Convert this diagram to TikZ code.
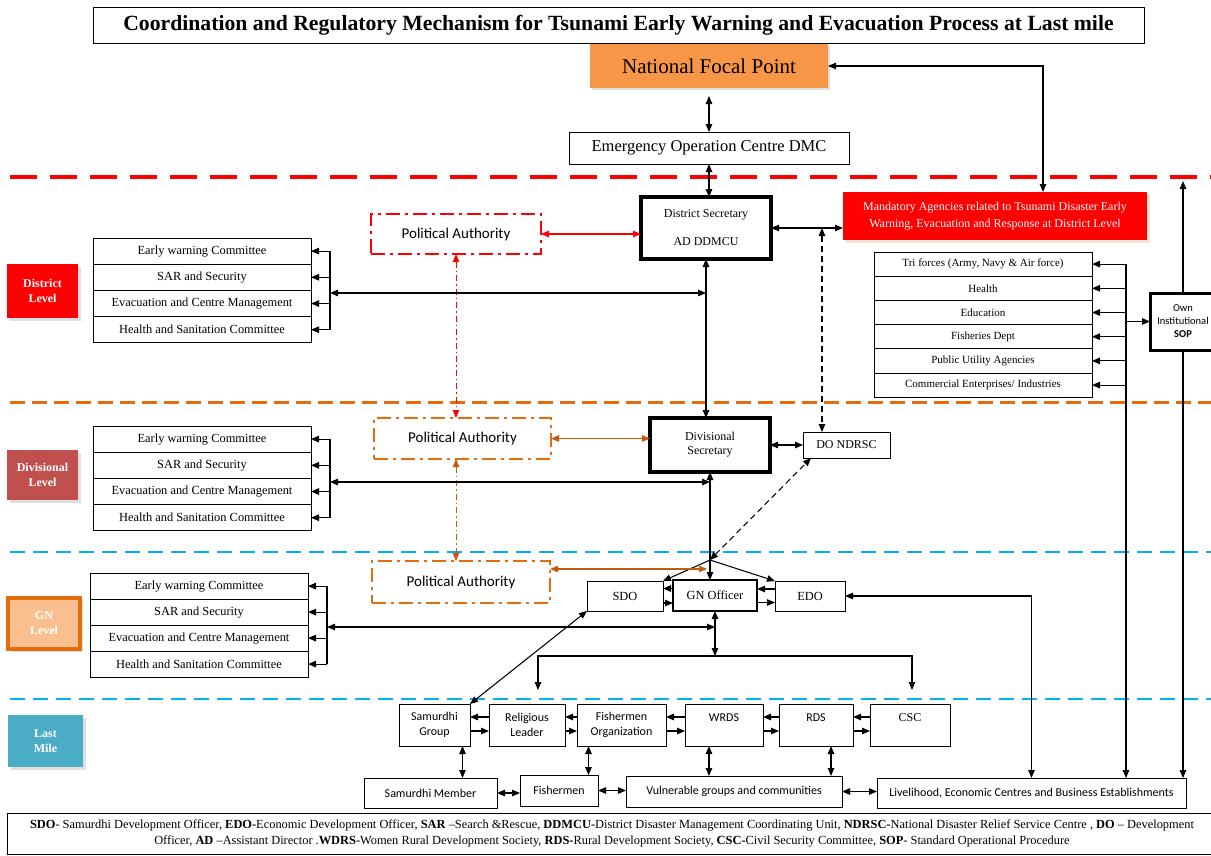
\documentclass[tikz,border=0pt]{standalone}
\usepackage{fontspec}
\setmainfont{Liberation Serif}
\newfontfamily\calibfont{Carlito}
\usetikzlibrary{arrows.meta,calc,shadows}

\definecolor{nfpor}{HTML}{F79646}
\definecolor{orline}{HTML}{E46C0A}
\definecolor{orarrow}{HTML}{C55A11}
\definecolor{divred}{HTML}{C0504D}
\definecolor{gnfill}{HTML}{FABF8F}
\definecolor{milefill}{HTML}{4BACC6}
\definecolor{cyanline}{HTML}{00B0F0}

\begin{document}
\begin{tikzpicture}[x=1pt,y=-1pt,line width=1.05pt,
  >={Triangle[length=8pt,width=6.5pt]},
  every node/.style={inner sep=0pt,outer sep=0pt},
  box/.style={draw,line width=0.8pt,anchor=north west,align=center},
  fatbox/.style={box,line width=3.5pt,font=\fontsize{12}{14}\selectfont},
  comm/.style={box,font=\fontsize{12.4}{14}\selectfont,minimum width=218pt,minimum height=26.2pt},
  agency/.style={box,font=\fontsize{11}{13}\selectfont,minimum width=218pt,minimum height=24.2pt},
  lvl/.style={anchor=north west,text=white,align=center,font=\bfseries\fontsize{12}{15}\selectfont,
    drop shadow={shadow xshift=3pt,shadow yshift=-3pt,fill=black!25}},
  polit/.style={anchor=north west,line width=2.5pt,dash pattern=on 14pt off 5pt on 3pt off 5pt,
    font=\calibfont\fontsize{15}{18}\selectfont},
  mile/.style={box,font=\calibfont\fontsize{12}{14.5}\selectfont},
  conn/.style={<->},
  dashconn/.style={<->,dash pattern=on 6pt off 4pt},
  dotconn/.style={<->,line width=1pt,dash pattern=on 6pt off 3pt on 1.5pt off 3pt}]
\useasboundingbox (0,0) rectangle (1211,855);

% level borders
\draw[red,line width=4.5pt,dash pattern=on 27pt off 13pt] (10,177) -- (1211,177);
\draw[orline,line width=3pt,dash pattern=on 15pt off 7pt] (10,402) -- (1211,402);
\draw[cyanline,line width=2.5pt,dash pattern=on 15pt off 8pt] (10,552) -- (1211,552);
\draw[cyanline,line width=2.5pt,dash pattern=on 15pt off 8pt] (10,699) -- (1211,699);
\coordinate (redline) at (0,181);

\node[box,minimum width=1051pt,minimum height=36pt,font=\bfseries\fontsize{21.7}{24}\selectfont] (title) at (93,7)
  {Coordination and Regulatory Mechanism for Tsunami Early Warning and Evacuation Process at Last mile};

% national and district
\node[anchor=north west,fill=nfpor,minimum width=238pt,minimum height=44pt,font=\fontsize{21}{25}\selectfont,
  drop shadow={shadow xshift=2pt,shadow yshift=-2pt,fill=black!25}] (nfp) at (590,44) {National Focal Point};
\node[box,minimum width=280pt,minimum height=32pt,font=\fontsize{16.5}{20}\selectfont] (eoc) at (569,132) {Emergency Operation Centre DMC};
\node[fatbox,minimum width=130pt,minimum height=62pt] (dsec) at (641,197) {District Secretary\\[14pt]AD DDMCU};
\node[anchor=north west,fill=red,text=white,align=center,minimum width=304pt,minimum height=48pt,font=\fontsize{12}{17}\selectfont,
  drop shadow={shadow xshift=3pt,shadow yshift=-3pt,fill=brown!40}] (mand) at (843,192)
  {Mandatory Agencies related to Tsunami Disaster Early\\Warning, Evacuation and Response at District Level};
\node[polit,draw=red,minimum width=170pt,minimum height=40pt] (dpa) at (371,214) {Political Authority};
\node[lvl,fill=red,minimum width=71pt,minimum height=54pt] (dlvl) at (7,264) {District\\Level};

\foreach \t [count=\i] in {Early warning Committee,SAR and Security,Evacuation and Centre Management,Health and Sanitation Committee}
  \node[comm] (d\i) at (93,{238+26.2*(\i-1)}) {\t};

\foreach \t [count=\i] in {{Tri forces (Army, Navy \& Air force)},Health,Education,Fisheries Dept,Public Utility Agencies,Commercial Enterprises/ Industries}
  \node[agency] (t\i) at (874,{252+24.2*(\i-1)}) {\t};
\node[box,line width=3pt,minimum width=66pt,minimum height=57pt,font=\calibfont\fontsize{10.5}{13}\selectfont] (sop) at (1150,293)
  {Own\\Institutional\\\textbf{SOP}};

% divisional
\node[polit,draw=orline,minimum width=177pt,minimum height=41pt] (vpa) at (374,418) {Political Authority};
\node[fatbox,minimum width=120pt,minimum height=54pt] (vsec) at (650,418) {Divisional\\Secretary};
\node[box,minimum width=87pt,minimum height=26pt,font=\fontsize{12}{14}\selectfont] (ndrsc) at (803,432) {DO NDRSC};
\node[lvl,fill=divred,minimum width=71pt,minimum height=50pt] (vlvl) at (7,450) {Divisional\\Level};

\foreach \t [count=\i] in {Early warning Committee,SAR and Security,Evacuation and Centre Management,Health and Sanitation Committee}
  \node[comm] (v\i) at (93,{426+26.2*(\i-1)}) {\t};

% GN
\node[polit,draw=orline,minimum width=178pt,minimum height=42pt] (gpa) at (372,561) {Political Authority};
\node[box,minimum width=76pt,minimum height=30pt,font=\fontsize{12.4}{14}\selectfont] (sdo) at (587,581) {SDO};
\node[box,line width=2.5pt,minimum width=84pt,minimum height=31pt,font=\fontsize{12.4}{14}\selectfont] (gno) at (673,580) {GN Officer};
\node[box,minimum width=70pt,minimum height=30pt,font=\fontsize{12.4}{14}\selectfont] (edo) at (775,581) {EDO};
\node[lvl,fill=gnfill,draw=orline,line width=3.5pt,minimum width=72pt,minimum height=51pt] (glvl) at (8,598) {GN\\Level};

\foreach \t [count=\i] in {Early warning Committee,SAR and Security,Evacuation and Centre Management,Health and Sanitation Committee}
  \node[comm] (g\i) at (90,{573+26*(\i-1)}) {\t};

% last mile
\node[lvl,fill=milefill,minimum width=75pt,minimum height=52pt] (llvl) at (8,715) {Last\\Mile};
\node[mile,minimum width=71pt,minimum height=42pt] (sgrp) at (399,704) {Samurdhi\\Group};
\node[mile,minimum width=76pt,minimum height=42pt] (rel) at (489,704) {Religious\\Leader};
\node[mile,minimum width=89pt,minimum height=42pt] (forg) at (577,704) {Fishermen\\Organization};
\node[mile,minimum width=78pt,minimum height=42pt] (wrds) at (685,704) {WRDS\\~};
\node[mile,minimum width=74pt,minimum height=42pt] (rds) at (779,704) {RDS\\~};
\node[mile,minimum width=80pt,minimum height=42pt] (csc) at (870,704) {\rmfamily CSC\\~};
\node[mile,minimum width=133pt,minimum height=30pt] (smem) at (364,778) {Samurdhi Member};
\node[mile,minimum width=78pt,minimum height=31pt] (fish) at (520,775) {Fishermen};
\node[mile,minimum width=216pt,minimum height=31pt] (vuln) at (626,776) {Vulnerable groups and communities};
\node[mile,minimum width=309pt,minimum height=30pt] (live) at (877,778) {Livelihood, Economic Centres and Business Establishments};

\node[box,minimum width=1210pt,minimum height=41pt,font=\fontsize{12.4}{16}\selectfont] (foot) at (7,813)
  {\textbf{SDO}- Samurdhi Development Officer, \textbf{EDO-}Economic Development Officer, \textbf{SAR} --Search \&Rescue, \textbf{DDMCU-}District Disaster Management Coordinating Unit, \textbf{NDRSC-}National Disaster Relief Service Centre , \textbf{DO} -- Development\\
   Officer, \textbf{AD} --Assistant Director .\textbf{WDRS-}Women Rural Development Society, \textbf{RDS-}Rural Development Society, \textbf{CSC-}Civil Security Committee, \textbf{SOP}- Standard Operational Procedure};

% district connectors
\draw[conn,shorten <=8pt] (nfp.south) -- (eoc.north);
\draw[conn] (eoc.south) -- (eoc.south |- dsec.north);
\draw[conn] (nfp.east) -| ($(mand.north)+(48,0)$);
\draw[conn,red] (dpa.east) -- (dpa.east -| dsec.west);
\draw[conn] (dsec.east) -- (dsec.east -| mand.west);
\coordinate (dtap) at (822,228);
\draw[dashconn] (dtap) -- (dtap |- ndrsc.north);
\draw[dotconn,red] (dpa.south) -- (dpa.south |- vpa.north);
\coordinate (dbr) at (330,293);
\draw (d1.east -| dbr) -- (d4.east -| dbr);
\foreach \i in {1,...,4} \draw[->] (d\i.east -| dbr) -- (d\i.east);
\draw[conn] (dbr) -- (dbr -| dsec.south);
\draw[conn] (dsec.south) -- (dsec.south |- vsec.north);

\coordinate (tbus) at (1126,264);
\draw[->] (tbus) -- (tbus |- live.north);
\foreach \i in {1,...,6} \draw[->] (t\i.east -| tbus) -- (t\i.east);
\draw[->] (sop.west -| tbus) -- (sop.west);
\draw[->] (sop.north) -- (sop.north |- redline);
\draw[->] (sop.south) -- (sop.south |- live.north);

% divisional connectors
\draw[conn,orarrow] (vpa.east) -- (vpa.east -| vsec.west);
\draw[conn] (vsec.east) -- (vsec.east -| ndrsc.west);
\draw[dotconn,orarrow] (dpa.south |- vpa.south) -- (dpa.south |- gpa.north);
\coordinate (vbr) at (330,482);
\draw (v1.east -| vbr) -- (v4.east -| vbr);
\foreach \i in {1,...,4} \draw[->] (v\i.east -| vbr) -- (v\i.east);
\draw[conn] (vbr) -- (vbr -| vsec.south);
\draw[conn] (vsec.south) -- (vsec.south |- gno.north);

% GN connectors
\coordinate (gfork) at (710,560);
\draw[->] (gfork) -- (sdo.north east);
\draw[->] (gfork) -- (edo.north west);
\draw[dashconn] (gfork) -- ([xshift=8pt]ndrsc.south west);
\draw[conn,orarrow] ([yshift=13pt]gpa.east) -- ([yshift=13pt,xshift=-3pt]gpa.east -| gfork);
\draw[->] ([yshift=7pt]gno.west) -- ([yshift=7pt]gno.west -| sdo.east);
\draw[->] ([yshift=-7pt]sdo.east) -- ([yshift=-7pt]sdo.east -| gno.west);
\draw[->] ([yshift=7pt]edo.west) -- ([yshift=7pt]edo.west -| gno.east);
\draw[->] ([yshift=-7pt]gno.east) -- ([yshift=-7pt]gno.east -| edo.west);
\draw[conn] (edo.east) -| (live.north);
\coordinate (gbr) at (327,627);
\draw (g1.east -| gbr) -- (g4.east -| gbr);
\foreach \i in {1,...,4} \draw[->] (g\i.east -| gbr) -- (g\i.east);
\draw[conn] (gbr) -- (gbr -| gno.south);
\coordinate (gsplit) at (715,656);
\coordinate (gleft) at (538,690);
\coordinate (gright) at (912,690);
\draw[conn] (gno.south) -- (gsplit);
\draw[->] (gsplit) -| (gleft);
\draw[->] (gsplit) -| (gright);
\draw[conn] (sdo.south west) -- (sgrp.north east);

% last mile connectors
\foreach \a/\b in {sgrp/rel,rel/forg,forg/wrds,wrds/rds,rds/csc}{
  \draw[->] ([yshift=8pt]\b.west) -- ([yshift=8pt]\b.west -| \a.east);
  \draw[->] ([yshift=-6pt]\a.east) -- ([yshift=-6pt]\a.east -| \b.west);
}
\draw[conn] ([xshift=28pt]sgrp.south) -- ([xshift=28pt]sgrp.south |- smem.north);
\draw[conn] ([xshift=-33pt]forg.south) -- ([xshift=-33pt]forg.south |- fish.north);
\draw[conn] ([xshift=-15pt]wrds.south) -- ([xshift=-15pt]wrds.south |- vuln.north);
\draw[conn] ([xshift=15pt]rds.south) -- ([xshift=15pt]rds.south |- vuln.north);
\draw[conn] (smem.east) -- (smem.east -| fish.west);
\draw[conn] (fish.east) -- (fish.east -| vuln.west);
\draw[conn] (vuln.east) -- (vuln.east -| live.west);
\end{tikzpicture}
\end{document}
